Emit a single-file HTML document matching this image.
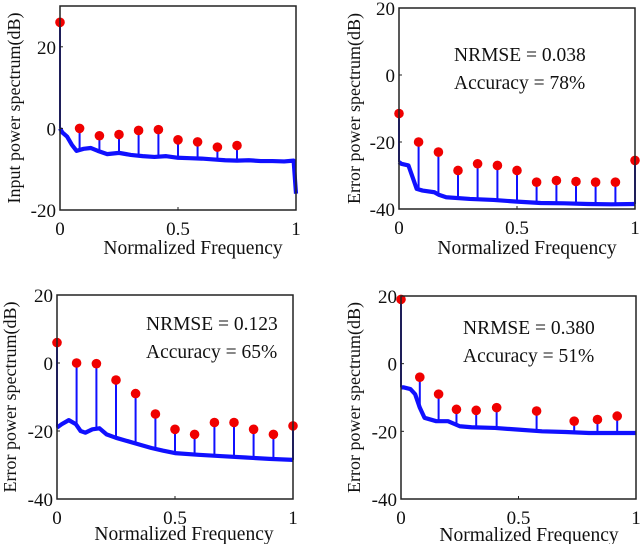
<!DOCTYPE html>
<html><head><meta charset="utf-8"><style>
body{margin:0;background:#fff;}
svg{display:block;font-family:"Liberation Serif",serif;}
</style></head><body>
<svg id="fig" width="640" height="544" viewBox="0 0 640 544"></svg>
<script>
// Panel 1: input power spectrum
const p1HarmX=[0,0.083,0.167,0.25,0.333,0.417,0.5,0.583,0.667,0.75];
const p1HarmY=[26,0,-1.8,-1.5,-0.5,-0.3,-2.8,-3.3,-4.6,-4.2];
const p1FloorX=[0,0.01,0.03,0.05,0.07,0.1,0.13,0.16,0.2,0.25,0.3,0.35,0.4,0.45,0.5,0.55,0.6,0.65,0.7,0.75,0.8,0.85,0.9,0.95,0.99,1];
const p1FloorY=[0,-1,-2,-4,-5.5,-5,-4.8,-5.5,-6.3,-6,-6.5,-6.8,-7,-6.8,-7.2,-7.3,-7.4,-7.6,-7.8,-7.9,-7.8,-8,-8,-8.1,-7.9,-16];
// Panel 2
const p2HarmX=[0,0.083,0.167,0.25,0.333,0.417,0.5,0.583,0.667,0.75,0.833,0.917,1];
const p2HarmY=[-11.5,-20,-23,-28.5,-26.5,-27,-28.5,-32,-31.5,-31.8,-32,-32,-25.5];
const p2FloorX=[0,0.01,0.04,0.06,0.075,0.1,0.15,0.17,0.2,0.3,0.4,0.5,0.6,0.7,0.8,0.9,1];
const p2FloorY=[-26,-26.5,-27,-31,-34,-34.5,-35,-35.8,-36.5,-37,-37.3,-37.8,-38.2,-38.3,-38.5,-38.6,-38.5];
// Panel 3
const p3HarmX=[0,0.083,0.167,0.25,0.333,0.417,0.5,0.583,0.667,0.75,0.833,0.917,1];
const p3HarmY=[6,0,-0.2,-5,-9,-15,-19.5,-21,-17.5,-17.5,-19.5,-21,-18.5];
const p3FloorX=[0,0.02,0.05,0.08,0.1,0.12,0.15,0.18,0.21,0.25,0.3,0.35,0.4,0.45,0.5,0.6,0.7,0.8,0.9,1];
const p3FloorY=[-19,-18,-16.8,-18,-20,-20.5,-19.5,-19.2,-21,-22,-23,-24,-25,-25.8,-26.5,-27,-27.4,-27.8,-28.2,-28.5];
// Panel 4
const p4HarmX=[0,0.08,0.16,0.236,0.32,0.407,0.577,0.737,0.836,0.92];
const p4HarmY=[19,-4,-9,-13.5,-13.8,-13,-14,-17,-16.5,-15.5];
const p4FloorX=[0,0.01,0.04,0.06,0.08,0.1,0.15,0.2,0.25,0.3,0.4,0.5,0.6,0.7,0.8,0.9,1];
const p4FloorY=[-7,-7,-7.5,-9,-13,-16,-17,-17,-18.5,-18.8,-19,-19.5,-20,-20.2,-20.5,-20.5,-20.5];

const panels=[
 {id:'input',x0:60,x1:296,y0:6,y1:210,ymin:-20,ymax:30,ticks:[-20,0,20],hx:p1HarmX,hy:p1HarmY,fx:p1FloorX,fy:p1FloorY,
  ylab:'Input power spectrum(dB)',ylx:14,xlc:193,xlb:254,txt:null},
 {id:'err-a',x0:399,x1:635,y0:8,y1:209,ymin:-40,ymax:20,ticks:[-40,-20,0,20],hx:p2HarmX,hy:p2HarmY,fx:p2FloorX,fy:p2FloorY,
  ylab:'Error power spectrum(dB)',ylx:354,xlc:527,xlb:254,txt:['NRMSE = 0.038','Accuracy = 78%'],tx:454,ty:61},
 {id:'err-b',x0:57,x1:293,y0:295,y1:499,ymin:-40,ymax:20,ticks:[-40,-20,0,20],hx:p3HarmX,hy:p3HarmY,fx:p3FloorX,fy:p3FloorY,
  ylab:'Error power spectrum(dB)',ylx:10,xlc:184,xlb:540,txt:['NRMSE = 0.123','Accuracy = 65%'],tx:146,ty:330},
 {id:'err-c',x0:401,x1:636,y0:296,y1:499,ymin:-40,ymax:20,ticks:[-40,-20,0,20],hx:p4HarmX,hy:p4HarmY,fx:p4FloorX,fy:p4FloorY,
  ylab:'Error power spectrum(dB)',ylx:354,xlc:529,xlb:541,txt:['NRMSE = 0.380','Accuracy = 51%'],tx:463,ty:334}
];
const NS='http://www.w3.org/2000/svg';
const svg=document.getElementById('fig');
function mk(tag,attrs,parent){const e=document.createElementNS(NS,tag);for(const k in attrs)e.setAttribute(k,attrs[k]);(parent||svg).appendChild(e);return e;}
panels.forEach(p=>{
 const g=mk('g',{});
 
 
 const sx=v=>p.x0+v*(p.x1-p.x0);
 const sy=v=>p.y1-(v-p.ymin)/(p.ymax-p.ymin)*(p.y1-p.y0);
 const fl=v=>{for(let i=0;i<p.fx.length-1;i++){if(v<=p.fx[i+1]){const t=(v-p.fx[i])/(p.fx[i+1]-p.fx[i]||1);return p.fy[i]+t*(p.fy[i+1]-p.fy[i]);}}return p.fy[p.fy.length-1];};
 const pts=p.fx.map((x,i)=>sx(x)+','+sy(p.fy[i])).join(' ');
 const line=mk('polyline',{points:pts,fill:'none',stroke:'#1010ff','stroke-width':4.2,'stroke-linejoin':'round'},g);
 
 
 p.hx.forEach((x,i)=>{
  const st=mk('line',{x1:sx(x),x2:sx(x),y1:sy(fl(x)),y2:sy(p.hy[i]),stroke:'#1010ff','stroke-width':2},g);
  
  
 });
 p.hx.forEach((x,i)=>{
  const c=mk('circle',{cx:sx(x),cy:sy(p.hy[i]),r:4.8,fill:'#f00000'},g);
  
  
 });
 const fr=mk('rect',{x:p.x0,y:p.y0,width:p.x1-p.x0,height:p.y1-p.y0,fill:'none',stroke:'#222','stroke-width':1.5},g);
 
 
 p.ticks.forEach(t=>{
  const y=sy(t);
  mk('line',{x1:p.x0,x2:p.x0+3,y1:y,y2:y,stroke:'#222'},g);
  const tx=mk('text',{x:p.x0-4,y:y+7,'text-anchor':'end','font-size':19,fill:'#111'},g);
  tx.textContent=t;
  
  
 });
 [0,0.5,1].forEach(t=>{
  const x=sx(t);
  mk('line',{x1:x,x2:x,y1:p.y1,y2:p.y1-3,stroke:'#222'},g);
  const tx=mk('text',{x:x,y:p.y1+25,'text-anchor':'middle','font-size':19,fill:'#111'},g);
  tx.textContent=t;
  
  
 });
 const xl=mk('text',{x:p.xlc,y:p.xlb,'text-anchor':'middle','font-size':19.5,fill:'#111'},g);
 xl.textContent='Normalized Frequency';
 
 
 const yc=(p.y0+p.y1)/2;
 const yl=mk('text',{x:p.ylx,y:yc,'text-anchor':'middle','font-size':18,fill:'#111',transform:`rotate(-90 ${p.ylx} ${yc})`,'dominant-baseline':'central'},g);
 yl.textContent=p.ylab;
 
 
 if(p.txt){
  p.txt.forEach((s,i)=>{
   const t=mk('text',{x:p.tx,y:p.ty+i*28,'font-size':19.5,fill:'#111'},g);
   t.textContent=s;
   
   
  });
 }
});
</script>
</body></html>
